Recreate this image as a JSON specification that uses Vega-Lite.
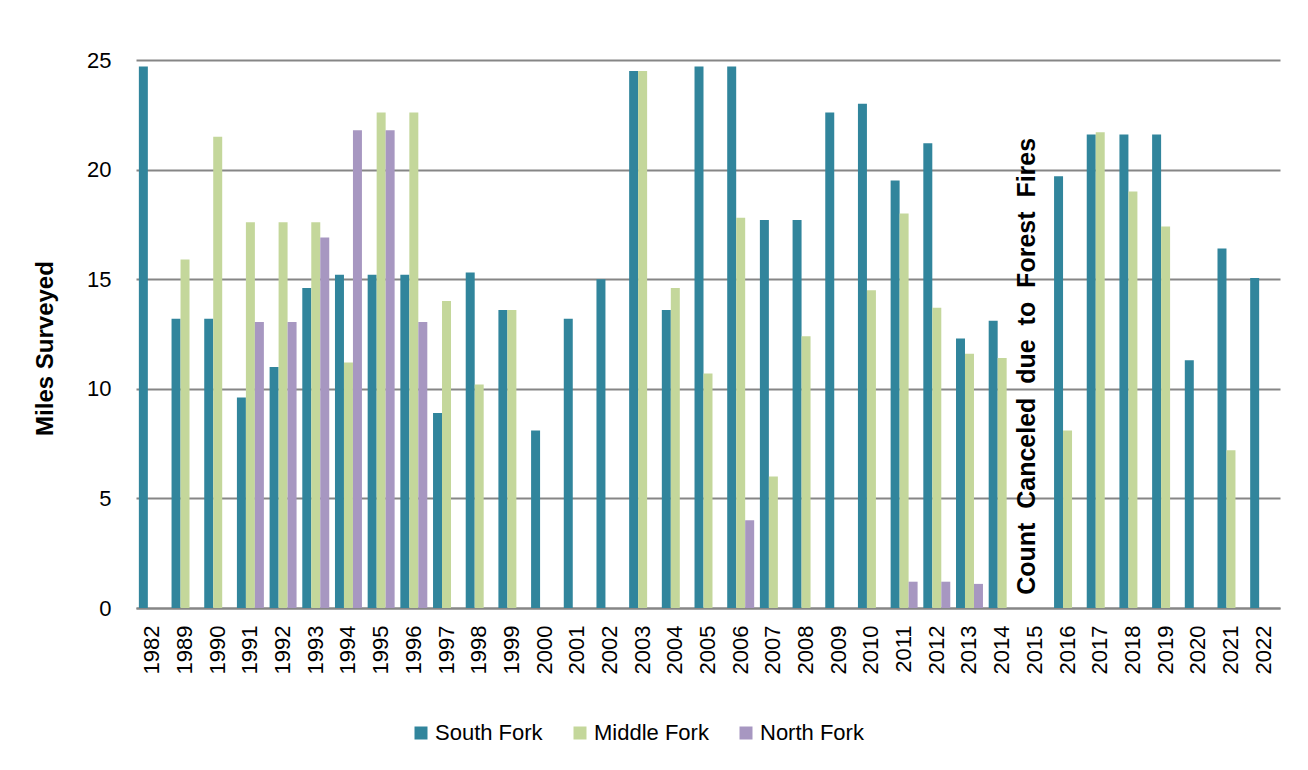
{
  "$schema": "https://vega.github.io/schema/vega-lite/v6.json",
  "autosize": {"type": "none"},
  "padding": {"left": 136, "top": 60, "right": 28, "bottom": 162},
  "width": 1144,
  "height": 548,
  "background": "white",
  "config": {
    "font": "Liberation Sans",
    "view": {"stroke": null},
    "axis": {"labelColor": "#000000", "titleColor": "#000000"}
  },
  "datasets": {
    "survey": [
      {"year": "1982", "fork": "South Fork", "miles": 24.7},
      {"year": "1989", "fork": "South Fork", "miles": 13.2},
      {"year": "1989", "fork": "Middle Fork", "miles": 15.9},
      {"year": "1990", "fork": "South Fork", "miles": 13.2},
      {"year": "1990", "fork": "Middle Fork", "miles": 21.5},
      {"year": "1991", "fork": "South Fork", "miles": 9.6},
      {"year": "1991", "fork": "Middle Fork", "miles": 17.6},
      {"year": "1991", "fork": "North Fork", "miles": 13.05},
      {"year": "1992", "fork": "South Fork", "miles": 11.0},
      {"year": "1992", "fork": "Middle Fork", "miles": 17.6},
      {"year": "1992", "fork": "North Fork", "miles": 13.05},
      {"year": "1993", "fork": "South Fork", "miles": 14.6},
      {"year": "1993", "fork": "Middle Fork", "miles": 17.6},
      {"year": "1993", "fork": "North Fork", "miles": 16.9},
      {"year": "1994", "fork": "South Fork", "miles": 15.2},
      {"year": "1994", "fork": "Middle Fork", "miles": 11.2},
      {"year": "1994", "fork": "North Fork", "miles": 21.8},
      {"year": "1995", "fork": "South Fork", "miles": 15.2},
      {"year": "1995", "fork": "Middle Fork", "miles": 22.6},
      {"year": "1995", "fork": "North Fork", "miles": 21.8},
      {"year": "1996", "fork": "South Fork", "miles": 15.2},
      {"year": "1996", "fork": "Middle Fork", "miles": 22.6},
      {"year": "1996", "fork": "North Fork", "miles": 13.05},
      {"year": "1997", "fork": "South Fork", "miles": 8.9},
      {"year": "1997", "fork": "Middle Fork", "miles": 14.0},
      {"year": "1998", "fork": "South Fork", "miles": 15.3},
      {"year": "1998", "fork": "Middle Fork", "miles": 10.2},
      {"year": "1999", "fork": "South Fork", "miles": 13.6},
      {"year": "1999", "fork": "Middle Fork", "miles": 13.6},
      {"year": "2000", "fork": "South Fork", "miles": 8.1},
      {"year": "2001", "fork": "South Fork", "miles": 13.2},
      {"year": "2002", "fork": "South Fork", "miles": 15.0},
      {"year": "2003", "fork": "South Fork", "miles": 24.5},
      {"year": "2003", "fork": "Middle Fork", "miles": 24.5},
      {"year": "2004", "fork": "South Fork", "miles": 13.6},
      {"year": "2004", "fork": "Middle Fork", "miles": 14.6},
      {"year": "2005", "fork": "South Fork", "miles": 24.7},
      {"year": "2005", "fork": "Middle Fork", "miles": 10.7},
      {"year": "2006", "fork": "South Fork", "miles": 24.7},
      {"year": "2006", "fork": "Middle Fork", "miles": 17.8},
      {"year": "2006", "fork": "North Fork", "miles": 4.0},
      {"year": "2007", "fork": "South Fork", "miles": 17.7},
      {"year": "2007", "fork": "Middle Fork", "miles": 6.0},
      {"year": "2008", "fork": "South Fork", "miles": 17.7},
      {"year": "2008", "fork": "Middle Fork", "miles": 12.4},
      {"year": "2009", "fork": "South Fork", "miles": 22.6},
      {"year": "2010", "fork": "South Fork", "miles": 23.0},
      {"year": "2010", "fork": "Middle Fork", "miles": 14.5},
      {"year": "2011", "fork": "South Fork", "miles": 19.5},
      {"year": "2011", "fork": "Middle Fork", "miles": 18.0},
      {"year": "2011", "fork": "North Fork", "miles": 1.2},
      {"year": "2012", "fork": "South Fork", "miles": 21.2},
      {"year": "2012", "fork": "Middle Fork", "miles": 13.7},
      {"year": "2012", "fork": "North Fork", "miles": 1.2},
      {"year": "2013", "fork": "South Fork", "miles": 12.3},
      {"year": "2013", "fork": "Middle Fork", "miles": 11.6},
      {"year": "2013", "fork": "North Fork", "miles": 1.1},
      {"year": "2014", "fork": "South Fork", "miles": 13.1},
      {"year": "2014", "fork": "Middle Fork", "miles": 11.4},
      {"year": "2016", "fork": "South Fork", "miles": 19.7},
      {"year": "2016", "fork": "Middle Fork", "miles": 8.1},
      {"year": "2017", "fork": "South Fork", "miles": 21.6},
      {"year": "2017", "fork": "Middle Fork", "miles": 21.7},
      {"year": "2018", "fork": "South Fork", "miles": 21.6},
      {"year": "2018", "fork": "Middle Fork", "miles": 19.0},
      {"year": "2019", "fork": "South Fork", "miles": 21.6},
      {"year": "2019", "fork": "Middle Fork", "miles": 17.4},
      {"year": "2020", "fork": "South Fork", "miles": 11.3},
      {"year": "2021", "fork": "South Fork", "miles": 16.4},
      {"year": "2021", "fork": "Middle Fork", "miles": 7.2},
      {"year": "2022", "fork": "South Fork", "miles": 15.05}
    ],
    "notes": [
      {"year": "2015", "note": "Count\u00a0\u00a0Canceled\u00a0\u00a0due\u00a0\u00a0to\u00a0\u00a0Forest\u00a0\u00a0Fires"}
    ]
  },
  "encoding": {
    "x": {
      "field": "year",
      "type": "nominal",
      "title": null,
      "scale": {
        "domain": ["1982", "1989", "1990", "1991", "1992", "1993", "1994", "1995", "1996", "1997", "1998", "1999", "2000", "2001", "2002", "2003", "2004", "2005", "2006", "2007", "2008", "2009", "2010", "2011", "2012", "2013", "2014", "2015", "2016", "2017", "2018", "2019", "2020", "2021", "2022"],
        "paddingInner": 0.175,
        "paddingOuter": 0.0875
      },
      "axis": {
        "labelAngle": -90,
        "labelFontSize": 22,
        "labelPadding": 17,
        "ticks": false,
        "domainColor": "#868686",
        "domainWidth": 2
      }
    }
  },
  "layer": [
    {
      "data": {"name": "survey"},
      "mark": {"type": "bar"},
      "encoding": {
        "xOffset": {
          "field": "fork",
          "type": "nominal",
          "scale": {"domain": ["South Fork", "Middle Fork", "North Fork"]}
        },
        "y": {
          "field": "miles",
          "type": "quantitative",
          "title": "Miles Surveyed",
          "scale": {"domain": [0, 25], "nice": false},
          "axis": {
            "values": [0, 5, 10, 15, 20, 25],
            "domain": false,
            "ticks": false,
            "gridColor": "#868686",
            "gridWidth": 2,
            "labelFontSize": 22,
            "labelPadding": 25,
            "titleFontSize": 24,
            "titleFontWeight": "bold",
            "titlePadding": 29,
            "titleY": 288
          }
        },
        "color": {
          "field": "fork",
          "type": "nominal",
          "scale": {
            "domain": ["South Fork", "Middle Fork", "North Fork"],
            "range": ["#31859C", "#C4D79B", "#A797C1"]
          },
          "legend": {
            "title": null,
            "orient": "none",
            "direction": "horizontal",
            "legendX": 274,
            "legendY": 662,
            "symbolType": "square",
            "symbolSize": 169,
            "symbolStrokeWidth": 0,
            "labelFontSize": 22,
            "labelOffset": 3,
            "columnPadding": 26,
            "labelColor": "#000000"
          }
        }
      }
    },
    {
      "data": {"name": "notes"},
      "mark": {
        "type": "text",
        "angle": 270,
        "align": "left",
        "baseline": "alphabetic",
        "fontSize": 25,
        "fontWeight": "bold",
        "color": "#000000"
      },
      "encoding": {
        "y": {"datum": 0.6, "type": "quantitative"},
        "text": {"field": "note"}
      }
    }
  ]
}
